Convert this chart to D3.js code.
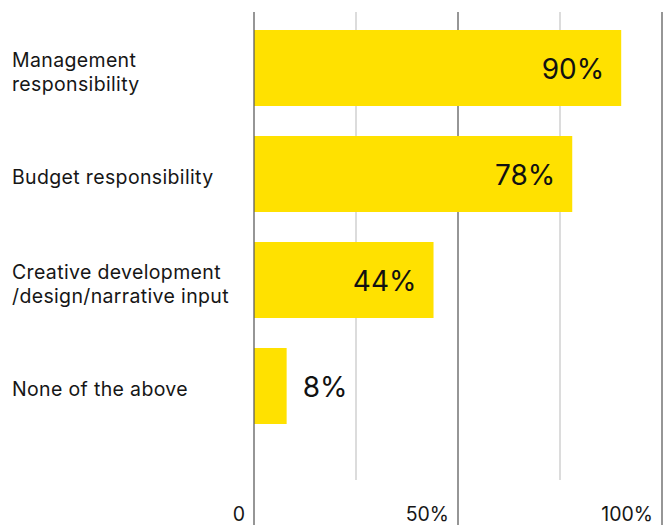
<!DOCTYPE html>
<html>
<head>
<meta charset="utf-8">
<script src="https://cdn.jsdelivr.net/npm/d3@7"></script>
<style>
  html, body { margin: 0; padding: 0; background: #fff; }
  svg { display: block; font-family: Inter, "Noto Sans", sans-serif; }
</style>
</head>
<body>
<svg id="chart" width="670" height="525"></svg>
<script>
// Survey responses: share of respondents with each responsibility
const categories = [
  ["Management", "responsibility"],
  ["Budget responsibility"],
  ["Creative development", "/design/narrative input"],
  ["None of the above"]
];
const values = [90, 78, 44, 8];
const valueLabels = ["90%", "78%", "44%", "8%"];

const gridValues = [0, 25, 50, 75, 100];
const majorTicks = [0, 50, 100];
const tickLabels = ["0", "50%", "100%"];

const svg = d3.select("#chart");
const W = 670, H = 525;

const x = d3.scaleLinear().domain([0, 100]).range([254, 662]);
const y = d3.scaleBand()
  .domain(d3.range(values.length))
  .range([30, 424])
  .paddingInner(0.283)
  .paddingOuter(0);

const barColor = "#ffe100";
const textColor = "#161616";

// Minor gridlines (25%, 75%) stop above the tick labels
svg.append("g").selectAll("line")
  .data(gridValues.filter(v => !majorTicks.includes(v)))
  .join("line")
  .attr("x1", d => x(d)).attr("x2", d => x(d))
  .attr("y1", 12).attr("y2", 480)
  .attr("stroke", "#c9c9c9").attr("stroke-width", 1.3);

// Major gridlines (50%, 100%) run to the bottom edge
svg.append("g").selectAll("line")
  .data(majorTicks.filter(v => v !== 0))
  .join("line")
  .attr("x1", d => x(d)).attr("x2", d => x(d))
  .attr("y1", 12).attr("y2", H)
  .attr("stroke", "#5e5e5e").attr("stroke-width", 1.3);

// Bars
svg.append("g").selectAll("rect")
  .data(values)
  .join("rect")
  .attr("x", x(0))
  .attr("y", (d, i) => y(i))
  .attr("width", d => x(d) - x(0))
  .attr("height", y.bandwidth())
  .attr("fill", barColor);

// Baseline at 0 sits on top of the bars
svg.append("line")
  .attr("x1", x(0)).attr("x2", x(0))
  .attr("y1", 12).attr("y2", H)
  .attr("stroke", "#5e5e5e").attr("stroke-width", 1.3);

// Value labels: inside the bar when it is wide enough, otherwise just after it
svg.append("g").selectAll("text")
  .data(values)
  .join("text")
  .attr("x", d => d >= 20 ? x(d) - 17 : x(d) + 16)
  .attr("y", (d, i) => y(i) + y.bandwidth() / 2 + 11)
  .attr("text-anchor", d => d >= 20 ? "end" : "start")
  .attr("font-size", 28)
  .attr("fill", "#111")
  .text((d, i) => valueLabels[i]);

// Category labels
const catG = svg.append("g");
categories.forEach((lines, i) => {
  const c = y(i) + y.bandwidth() / 2;
  const t = catG.append("text")
    .attr("x", 12)
    .attr("font-size", 19.5)
    .attr("letter-spacing", 0.35)
    .attr("fill", textColor);
  if (lines.length === 1) {
    t.attr("y", c + 10).text(lines[0]);
  } else {
    lines.forEach((ln, j) => {
      t.append("tspan").attr("x", 12).attr("y", c - 1 + j * 24).text(ln);
    });
  }
});

// Axis tick labels, right-aligned against their gridlines
svg.append("g").selectAll("text")
  .data(majorTicks)
  .join("text")
  .attr("x", d => x(d) - 9)
  .attr("y", 521)
  .attr("text-anchor", "end")
  .attr("font-size", 19.5)
  .attr("fill", textColor)
  .text((d, i) => tickLabels[i]);
</script>
</body>
</html>
